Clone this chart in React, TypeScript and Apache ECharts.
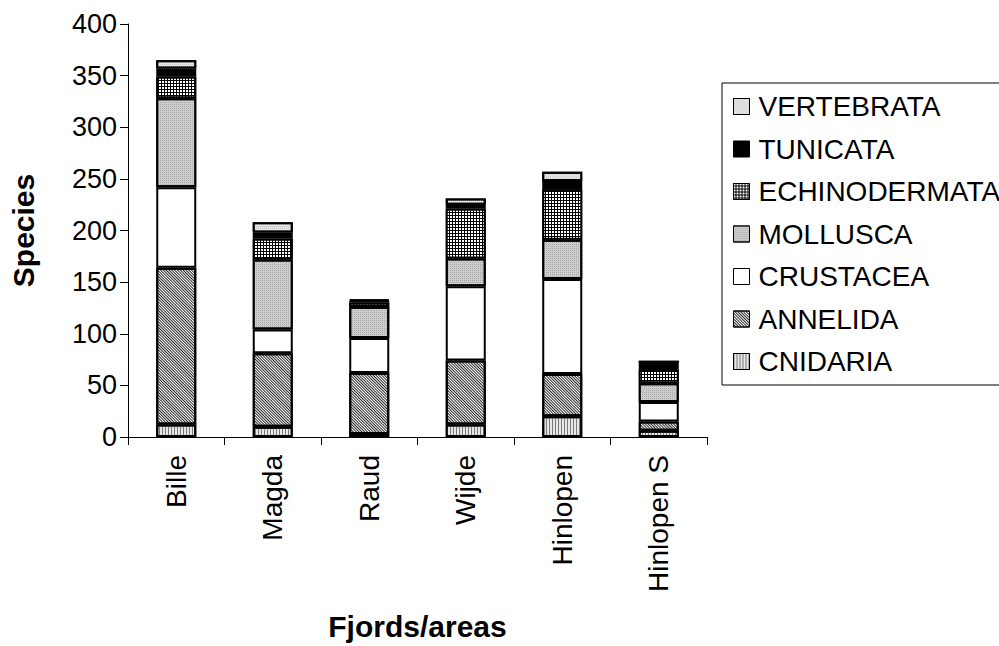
import React, { useEffect, useRef } from "react";
import * as echarts from "echarts";

const categories = ["Bille", "Magda", "Raud", "Wijde", "Hinlopen", "Hinlopen S"];
const cnidaria = [12, 10, 3, 12, 20, 6];
const annelida = [152, 71, 59, 62, 41, 9];
const crustacea = [78, 23, 34, 72, 92, 19];
const mollusca = [86, 68, 30, 27, 38, 18];
const echinodermata = [21, 20, 4, 48, 49, 13];
const tunicata = [8, 6, 2, 4, 8, 8];
const vertebrata = [8, 10, 1, 6, 9, 0];
const yTicks = { min: 0, max: 400, interval: 50 };
const legendOrder = ["VERTEBRATA", "TUNICATA", "ECHINODERMATA", "MOLLUSCA", "CRUSTACEA", "ANNELIDA", "CNIDARIA"];

const FONT = "'Liberation Sans', Arial, sans-serif";

export default function App() {
  const ref = useRef<HTMLDivElement>(null);
  useEffect(() => {
    const chart = echarts.init(ref.current!, null, { renderer: "svg" });
    const mk = (name: string, data: number[], color: string, decal?: any) => ({
      name,
      type: "bar",
      stack: "s",
      data,
      barWidth: 40,
      itemStyle: {
        color,
        borderColor: "#000",
        borderWidth: 2,
        ...(decal ? { decal } : {}),
      },
    });
    chart.setOption({
      animation: false,
      backgroundColor: "#fff",
      textStyle: { fontFamily: FONT },
      grid: { left: 127, right: 292, top: 24, bottom: 203 },
      legend: {
        orient: "vertical",
        left: 722,
        top: 83,
        data: legendOrder,
        icon: "rect",
        itemWidth: 16,
        itemHeight: 16,
        itemGap: 12.5,
        padding: [8.5, 12, 8.5, 11],
        borderColor: "#000",
        borderWidth: 1,
        selectedMode: false,
        itemStyle: { borderWidth: 1 },
        textStyle: { fontSize: 28, color: "#000", fontFamily: FONT, lineHeight: 30, padding: [0, 0, 0, 4] },
      },
      xAxis: {
        type: "category",
        data: categories,
        axisLine: { lineStyle: { color: "#000", width: 1 } },
        axisTick: { show: true, length: 8, lineStyle: { color: "#000" } },
        axisLabel: { rotate: 90, fontSize: 28, color: "#000", margin: 18, fontFamily: FONT },
        name: "Fjords/areas",
        nameLocation: "middle",
        nameGap: 174,
        nameTextStyle: { fontSize: 30, fontWeight: "bold", color: "#000", fontFamily: FONT },
      },
      yAxis: {
        type: "value",
        min: yTicks.min,
        max: yTicks.max,
        interval: yTicks.interval,
        splitLine: { show: false },
        axisLine: { show: true, lineStyle: { color: "#000", width: 1 } },
        axisTick: { show: true, length: 8, lineStyle: { color: "#000" } },
        axisLabel: { fontSize: 27, color: "#000", margin: 11, fontFamily: FONT },
        name: "Species",
        nameLocation: "middle",
        nameGap: 90,
        nameTextStyle: { fontSize: 30, fontWeight: "bold", color: "#000", fontFamily: FONT },
      },
      series: [
        mk("CNIDARIA", cnidaria, "#e8e8e8", {
          symbol: "rect", symbolSize: 1, dashArrayX: [1, 2], dashArrayY: [4, 0], color: "#7a7a7a",
        }),
        mk("ANNELIDA", annelida, "#ffffff", {
          symbol: "rect", symbolSize: 1, dashArrayX: [1, 1], dashArrayY: [4, 0], rotation: -Math.PI / 4, color: "#2a2a2a",
        }),
        mk("CRUSTACEA", crustacea, "#ffffff"),
        mk("MOLLUSCA", mollusca, "#cdcdcd", {
          symbol: "rect", symbolSize: 1, dashArrayX: [1, 1], dashArrayY: [1, 1], color: "#a8a8a8",
        }),
        mk("ECHINODERMATA", echinodermata, "#000000", {
          symbol: "rect", symbolSize: 1, dashArrayX: [2, 1], dashArrayY: [2, 1], color: "#ffffff",
        }),
        mk("TUNICATA", tunicata, "#000000"),
        mk("VERTEBRATA", vertebrata, "#e4e4e4", {
          symbol: "rect", symbolSize: 1, dashArrayX: [1, 1], dashArrayY: [1, 1], color: "#c8c8c8",
        }),
      ],
    });
    return () => chart.dispose();
  }, []);
  return <div ref={ref} style={{ width: 999, height: 646, position: "absolute", left: 0, top: 0 }} />;
}
